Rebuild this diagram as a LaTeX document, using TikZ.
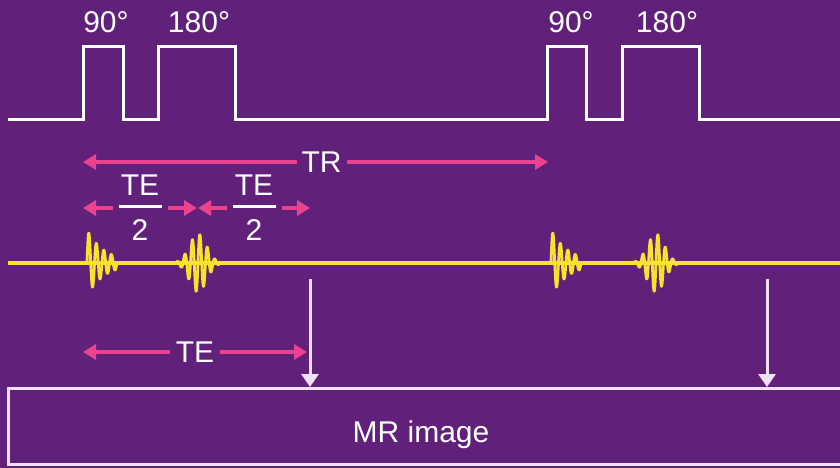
\documentclass[tikz,border=0pt]{standalone}
\usepackage{fontspec}
\setmainfont{Liberation Sans}
\usetikzlibrary{arrows.meta}

\definecolor{mrpurple}{RGB}{97,33,122}
\definecolor{mrpink}{RGB}{234,66,140}
\definecolor{mryellow}{RGB}{247,226,46}
\definecolor{mrwhite}{RGB}{240,226,244}

% TE over 2, stacked with a bar
\newcommand{\halfte}{\vbox{\hbox to 43pt{\hss TE\hss}\kern9pt\hrule height 3pt\kern12pt\hbox to 43pt{\hss 2\hss}}}

\begin{document}
\begin{tikzpicture}[x=1pt, y=-1pt,
        every node/.style={text=white, font=\fontsize{30}{36}\selectfont},
        pulse/.style={white, line width=3pt},
        signal/.style={mryellow, line width=3.4pt, line join=round},
        wave/.style={mryellow, line width=2.8pt, line join=round},
        interval/.style={mrpink, line width=3.4pt, {Triangle[length=13pt,width=15pt]}-{Triangle[length=13pt,width=15pt]}},
        gap/.style={fill=mrpurple, inner xsep=5pt, inner ysep=0pt},
        readout/.style={mrwhite, line width=3pt, -{Triangle[length=13pt,width=17pt]}}]
    \def\base{120}
    \def\top{47}
    \def\sig{263}

    % Background
    \fill[mrpurple] (0,0) rectangle (840,468);
    \useasboundingbox (0,0) rectangle (840,468);

    % RF pulses (90, 180, then again after TR)
    \draw[pulse] (8,\base) -| (83,\top) -| (123,\base) -| (158,\top) -| (235,\base)
        -| (547,\top) -| (586,\base) -| (622,\top) -| (699,\base) -- (840,\base);
    \node[anchor=base] (nineA) at (106,33) {90°};
    \node[anchor=base] (oneeightA) at (199,33) {180°};
    \node[anchor=base] (nineB) at (571,33) {90°};
    \node[anchor=base] (oneeightB) at (667,33) {180°};

    % Timing intervals
    \coordinate (trL) at (83,162);
    \coordinate (trR) at (548,162);
    \coordinate (hAL) at (83,208);
    \coordinate (hAR) at (197,208);
    \coordinate (hBL) at (198,208);
    \coordinate (hBR) at (310,208);
    \coordinate (teL) at (83,352);
    \coordinate (teR) at (307,352);
    \draw[interval] (trL) -- node[gap, pos=0.513] (trlab) {TR} (trR);
    \draw[interval] (hAL) -- node[gap, inner xsep=6pt] (halfA) {\halfte} (hAR);
    \draw[interval] (hBL) -- node[gap, inner xsep=6pt] (halfB) {\halfte} (hBR);
    \draw[interval] (teL) -- node[gap, inner xsep=6pt] (telab) {TE} (teR);

    % Signal: FID after each 90, echo after each 180
    \draw[signal] (8,\sig) -- (840,\sig);
    \foreach \s in {87,551} {
        \draw[wave] plot[domain=0:30, samples=150] ({\s+\x}, {\sig-33*exp(-\x/18)*sin(\x*360/7.5)});
    }
    \foreach \s in {198,656} {
        \draw[wave] plot[domain=-23:23, samples=180] ({\s+\x}, {\sig-29*exp(-(\x/12)*(\x/12))*sin(\x*360/7.5)});
    }

    % Image readout
    \node[draw=mrwhite, line width=2.6pt, anchor=north west, minimum width=850pt,
        minimum height=76pt, inner sep=0pt] (mrbox) at (7,387) {};
    \node[anchor=base] (mrlabel) at (421,442) {MR image};
    \coordinate (echoA) at (310,279);
    \coordinate (echoB) at (767,279);
    \draw[readout] (echoA) -- (echoA |- mrbox.north);
    \draw[readout] (echoB) -- (echoB |- mrbox.north);
\end{tikzpicture}
\end{document}
